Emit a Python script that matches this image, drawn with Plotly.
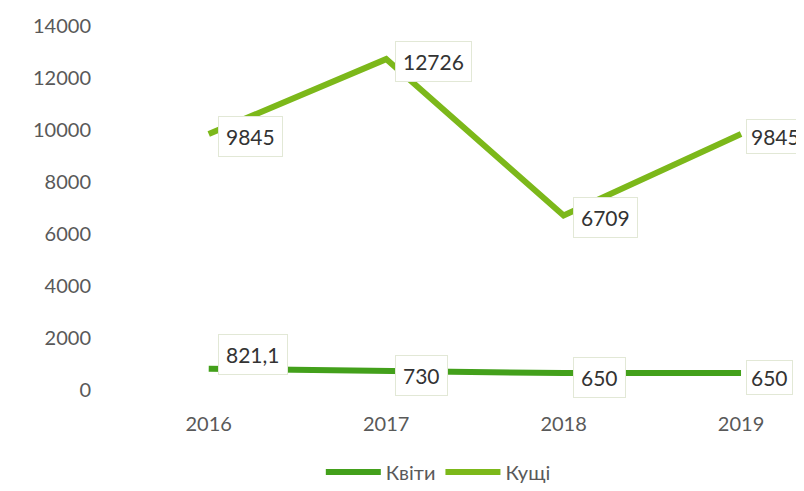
import plotly.graph_objects as go

years = [2016, 2017, 2018, 2019]
kvity = [821.1, 730, 650, 650]
kushchi = [9845, 12726, 6709, 9845]
kvity_labels = ["821,1", "730", "650", "650"]
kushchi_labels = ["9845", "12726", "6709", "9845"]

font_name = "Lato"
tick_color = "#595959"

fig = go.Figure()

fig.add_trace(go.Scatter(
    x=years, y=kvity, mode="lines", name="Квіти",
    line=dict(color="#43a01b", width=6),
))
fig.add_trace(go.Scatter(
    x=years, y=kushchi, mode="lines", name="Кущі",
    line=dict(color="#7cb81a", width=6),
))

# підписи даних у білих рамках праворуч від точок
for x, y, t in zip(years, kushchi, kushchi_labels):
    fig.add_annotation(
        x=x, y=y, text=t, showarrow=False,
        xanchor="left", yanchor="middle", xshift=5 if x == 2019 else 9, yshift=-2,
        bgcolor="white", bordercolor="#e2e8d6", borderwidth=1,
        borderpad=4 if x == 2019 else 7,
        font=dict(family=font_name, size=21, color="#333333"),
    )
for x, y, t in zip(years, kvity, kvity_labels):
    fig.add_annotation(
        x=x, y=y, text=t, showarrow=False,
        xanchor="left", yanchor="middle", xshift=5 if x == 2019 else 9,
        yshift=14 if x == 2016 else -4,
        bgcolor="white", bordercolor="#e2e8d6", borderwidth=1,
        borderpad=4 if x == 2019 else 7,
        font=dict(family=font_name, size=21, color="#333333"),
    )

fig.update_layout(
    width=804, height=491,
    margin=dict(l=112, r=0, t=18, b=109),
    paper_bgcolor="white", plot_bgcolor="white",
    font=dict(family=font_name, size=20, color=tick_color),
    legend=dict(
        orientation="h", x=0.46, xanchor="center", y=-0.225, yanchor="middle",
        font=dict(family=font_name, size=20, color=tick_color),
        itemwidth=55,
    ),
    xaxis=dict(
        range=[2015.5, 2019.4], tickvals=years, ticktext=[str(y) for y in years],
        showgrid=False, showline=False, zeroline=False, ticks="",
        ticklabelstandoff=20,
    ),
    yaxis=dict(
        range=[0, 14000], dtick=2000, tickformat="d", showgrid=False, showline=False,
        zeroline=False, ticks="", ticklabelstandoff=28,
    ),
)

fig.write_html("out.html")
